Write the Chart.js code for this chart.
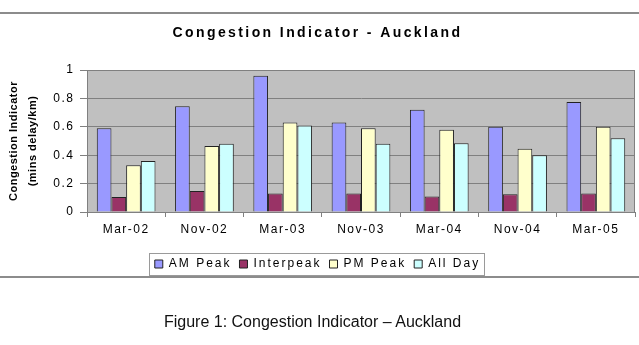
<!DOCTYPE html>
<html>
<head>
<meta charset="utf-8">
<script src="https://cdn.jsdelivr.net/npm/chart.js@4"></script>
<style>
  body { margin: 0; background: #fff; }
  #wrap { position: relative; width: 639px; height: 345px; overflow: hidden; }
  #chart-box { position: absolute; left: 0; top: 0; width: 639px; height: 345px; }
  .rule { position: absolute; left: 0; width: 639px; height: 2px; background: #8c8c8c; }
  #caption { position: absolute; left: 0; top: 313px; width: 625px; text-align: center;
             font: 16px "Liberation Sans", Arial, sans-serif; color: #111; }
</style>
</head>
<body>
<div id="wrap">
  <div class="rule" style="top:12px"></div>
  <div class="rule" style="top:276px"></div>
  <div id="chart-box"><canvas id="congChart"></canvas></div>
  <div id="caption">Figure 1: Congestion Indicator – Auckland</div>
</div>
<script>
// values
const periods   = ['Mar-02', 'Nov-02', 'Mar-03', 'Nov-03', 'Mar-04', 'Nov-04', 'Mar-05'];
const amPeak    = [0.59, 0.745, 0.96, 0.63, 0.72, 0.60, 0.775];
const interpeak = [0.105, 0.148, 0.13, 0.13, 0.11, 0.125, 0.13];
const pmPeak    = [0.33, 0.465, 0.63, 0.59, 0.58, 0.445, 0.60];
const allDay    = [0.36, 0.48, 0.61, 0.48, 0.485, 0.40, 0.52];
const yTicks    = [0, 0.2, 0.4, 0.6, 0.8, 1];

Chart.defaults.font.family = '"Liberation Sans", Arial, sans-serif';
Chart.defaults.color = '#000';

// canvas letter spacing, per part of the chart
function withSpacing(obj, method, spacing) {
  const orig = obj[method];
  obj[method] = function (...args) {
    const ctx = this.ctx;
    const prev = ctx.letterSpacing;
    ctx.letterSpacing = spacing;
    const r = orig.apply(this, args);
    ctx.letterSpacing = prev;
    return r;
  };
}

const excelLook = {
  id: 'excelLook',
  beforeLayout(chart) {
    if (chart._spaced) return;
    chart._spaced = true;
    withSpacing(chart.titleBlock, 'draw', '2.4px');
    withSpacing(chart.legend, 'fit', '2px');
    withSpacing(chart.legend, 'draw', '2px');
    withSpacing(chart.scales.x, 'drawLabels', '1.5px');
    withSpacing(chart.scales.y, 'drawLabels', '1.5px');
    withSpacing(chart.scales.y, 'drawTitle', '0.5px');
  },
  beforeDraw(chart) {
    const { ctx, chartArea: a } = chart;
    ctx.save();
    ctx.fillStyle = '#c0c0c0';
    ctx.fillRect(a.left, a.top, a.right - a.left, a.bottom - a.top);
    ctx.strokeStyle = '#808080';
    ctx.lineWidth = 1;
    ctx.strokeRect(a.left + 0.5, a.top + 0.5, a.right - a.left - 1, a.bottom - a.top);
    ctx.restore();
  },
  afterDraw(chart) {
    // border round the legend
    const hb = chart.legend.legendHitBoxes;
    if (!hb || !hb.length) return;
    const l = Math.min(...hb.map(b => b.left));
    const r = Math.max(...hb.map(b => b.left + b.width));
    const mid = hb[0].top + hb[0].height / 2;
    const ctx = chart.ctx;
    ctx.save();
    ctx.strokeStyle = '#9a9a9a';
    ctx.lineWidth = 1;
    ctx.strokeRect(Math.round(l - 6) + 0.5, Math.round(mid - 11) + 0.5, Math.round(r - l + 10), 22);
    ctx.restore();
  }
};

const bar = (label, data, color) => ({
  label, data,
  backgroundColor: color,
  borderColor: '#222',
  borderWidth: 1,
  barPercentage: 1,
  categoryPercentage: 0.75
});

new Chart(document.getElementById('congChart'), {
  type: 'bar',
  data: {
    labels: periods,
    datasets: [
      bar('AM Peak', amPeak, '#9999ff'),
      bar('Interpeak', interpeak, '#993366'),
      bar('PM Peak', pmPeak, '#ffffcc'),
      bar('All Day', allDay, '#ccffff')
    ]
  },
  options: {
    responsive: true,
    maintainAspectRatio: false,
    animation: false,
    layout: { padding: { left: 0, right: 4, top: 0, bottom: 65 } },
    plugins: {
      title: {
        display: true,
        text: 'Congestion Indicator - Auckland',
        font: { size: 14, weight: 'bold' },
        color: '#000',
        padding: { top: 24.5, bottom: 28.7 }
      },
      legend: {
        position: 'bottom',
        labels: { boxWidth: 8, boxHeight: 8, padding: 8, font: { size: 12 }, color: '#000' }
      },
      tooltip: { enabled: false }
    },
    scales: {
      x: {
        grid: { offset: true, drawOnChartArea: false, tickLength: 5, color: '#808080' },
        border: { color: '#808080' },
        ticks: { font: { size: 12 }, padding: 5, color: '#000' },
        afterFit: s => { s.height = 38; }
      },
      y: {
        min: 0, max: 1,
        afterBuildTicks: s => { s.ticks = yTicks.map(v => ({ value: v })); },
        grid: { color: '#808080', tickLength: 7 },
        border: { color: '#808080' },
        ticks: { font: { size: 12 }, padding: 5.5, color: '#000', callback: v => String(v) },
        title: {
          display: true,
          text: ['Congestion Indicator', '(mins delay/km)'],
          font: { size: 11, weight: 'bold', lineHeight: 1.7 },
          color: '#000',
          padding: { top: 5, bottom: 0 }
        },
        afterFit: s => { s.width = 87; }
      }
    }
  },
  plugins: [excelLook]
});
</script>
</body>
</html>
